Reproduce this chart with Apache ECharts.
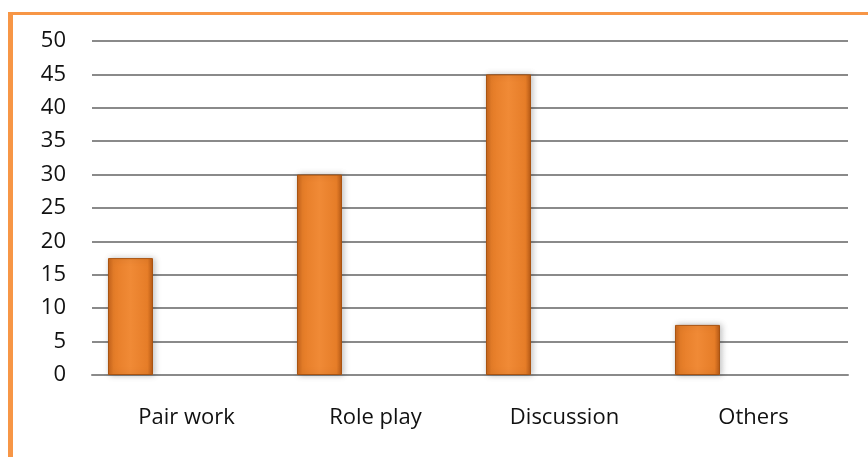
<!DOCTYPE html>
<html>
<head>
<meta charset="utf-8">
<script src="https://cdn.jsdelivr.net/npm/echarts@6/dist/echarts.min.js"></script>
<style>
  html, body { margin: 0; padding: 0; background: #fff; }
  #chart { width: 868px; height: 457px; }
</style>
</head>
<body>
<div id="chart"></div>
<script>
// Activity types and their shares
const categories = ['Pair work', 'Role play', 'Discussion', 'Others'];
const activityValues = [17.5, 30, 45, 7.5];
// Second (empty) series slot that keeps each bar on the left of its category
const emptySlot = [null, null, null, null];
const yTicks = { min: 0, max: 50, interval: 5 };

const chart = echarts.init(document.getElementById('chart'), null, { renderer: 'canvas' });

const barFill = new echarts.graphic.LinearGradient(0, 0, 1, 0, [
  { offset: 0, color: '#c4641c' },
  { offset: 0.12, color: '#e67d28' },
  { offset: 0.5, color: '#f08a36' },
  { offset: 0.88, color: '#e67d28' },
  { offset: 1, color: '#b85a16' }
]);

chart.setOption({
  animation: false,
  backgroundColor: '#ffffff',
  textStyle: { fontFamily: 'Open Sans' },
  graphic: [
    { type: 'rect', shape: { x: 8, y: 12, width: 860, height: 3 }, style: { fill: '#f79646' }, z: 10 },
    { type: 'rect', shape: { x: 8, y: 12, width: 5, height: 445 }, style: { fill: '#f79646' }, z: 10 }
  ],
  grid: { left: 92, right: 20, top: 41, bottom: 82 },
  xAxis: {
    type: 'category',
    data: categories,
    axisLine: { show: true, lineStyle: { color: '#8a8a8a', width: 2 } },
    axisTick: { show: false },
    axisLabel: { color: '#111', fontSize: 22, margin: 32, fontFamily: 'Open Sans' }
  },
  yAxis: {
    type: 'value',
    min: yTicks.min,
    max: yTicks.max,
    interval: yTicks.interval,
    axisLine: { show: false },
    axisTick: { show: false },
    splitLine: { lineStyle: { color: '#8a8a8a', width: 2 } },
    axisLabel: { color: '#111', fontSize: 22, margin: 26, fontFamily: 'Open Sans' }
  },
  series: [
    {
      type: 'bar',
      data: activityValues,
      barWidth: 45,
      barGap: '149%',
      itemStyle: {
        color: barFill,
        borderColor: '#a8520f',
        borderWidth: 1,
        shadowColor: 'rgba(0,0,0,0.25)',
        shadowBlur: 6,
        shadowOffsetX: 2,
        shadowOffsetY: 0
      }
    },
    {
      type: 'bar',
      data: emptySlot,
      barWidth: 45
    }
  ]
});
</script>
</body>
</html>
